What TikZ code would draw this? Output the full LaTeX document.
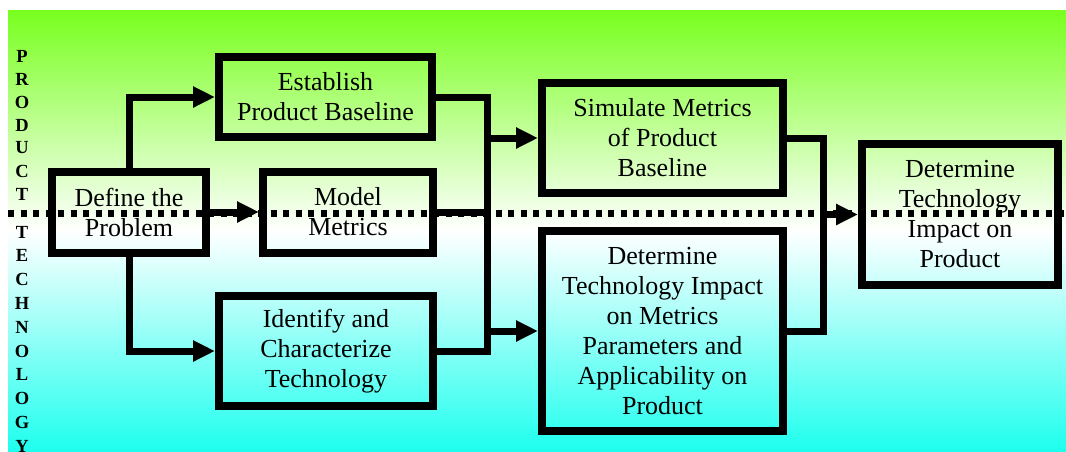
\documentclass[tikz,border=0pt]{standalone}
\usepackage{fontspec}
\setmainfont{Liberation Serif}
\usetikzlibrary{shapes,arrows.meta,positioning}
\definecolor{prodgreen}{RGB}{120,255,30}
\definecolor{techcyan}{RGB}{30,255,238}
\tikzstyle{block}   = [draw, line width=8pt, align=center, inner sep=0pt, font=\fontsize{26}{30}\selectfont]
\tikzstyle{wire}    = [draw, line width=7pt]
\tikzstyle{line}    = [wire, -{Triangle[length=22pt,width=20pt]}]
\tikzstyle{letter}  = [inner sep=0pt, font=\fontsize{18.5}{18.5}\selectfont\bfseries]
\tikzstyle{divider} = [draw, line width=6.5pt, dash pattern=on 6pt off 6.5pt]

\begin{document}
\begin{tikzpicture}[x=1pt, y=-1pt]
	\useasboundingbox (0,0) rectangle (1066,451);
	\fill[white] (0,0) rectangle (1066,451);
	% Background %
	\shade[top color=prodgreen, bottom color=techcyan, middle color=white] (8,10) rectangle (1066,451);
	\foreach \l [count=\i from 0] in {P,R,O,D,U,C,T}
		\node [letter] (prod\i) at (22, 56+23*\i) {\l};
	\foreach \l [count=\i from 0] in {T,E,C,H,N,O,L,O,G,Y}
		\node [letter] (tech\i) at (22, 232+23.8*\i) {\l};
	% Node Setting %
	\node [block, minimum width=154pt, minimum height=81pt] (define) at (129,212) {Define the\\Problem};
	\node [block, minimum width=213pt, minimum height=80pt] (establish) at (325.5,97) {Establish\\Product Baseline};
	\node [block, minimum width=170pt, minimum height=81pt] (model) at (348,212) {Model\\Metrics};
	\node [block, minimum width=214pt, minimum height=110pt] (identify) at (326,351) {Identify and\\Characterize\\Technology};
	\node [block, minimum width=241pt, minimum height=110pt] (simulate) at (662.5,138) {Simulate Metrics\\of Product\\Baseline};
	\node [block, minimum width=241pt, minimum height=200pt] (metricimpact) at (662.5,331) {Determine\\Technology Impact\\on Metrics\\Parameters and\\Applicability on\\Product};
	\node [block, minimum width=196pt, minimum height=141pt] (productimpact) at (960,214.5) {Determine\\Technology\\Impact on\\Product};
	\coordinate (busa) at (487,212);
	\coordinate (busb) at (823,214.5);
	% Connection %
	\path [line] (define.north) |- (establish.west);
	\path [line] (define.east) -- (model.west);
	\path [line] (define.south) |- (identify.west);
	\path [wire] (establish.east) -| (busa |- identify.east) -- (identify.east);
	\path [wire] (model.east) -- (busa);
	\path [line] (busa |- simulate.west) -- (simulate.west);
	\path [line] (busa |- metricimpact.west) -- (metricimpact.west);
	\path [wire] (simulate.east) -| (busb |- metricimpact.east) -- (metricimpact.east);
	\path [line] (busb) -- (productimpact.west);
	% Product / technology border %
	\path [divider] (8,213.5) -- (1066,213.5);
\end{tikzpicture}
\end{document}
